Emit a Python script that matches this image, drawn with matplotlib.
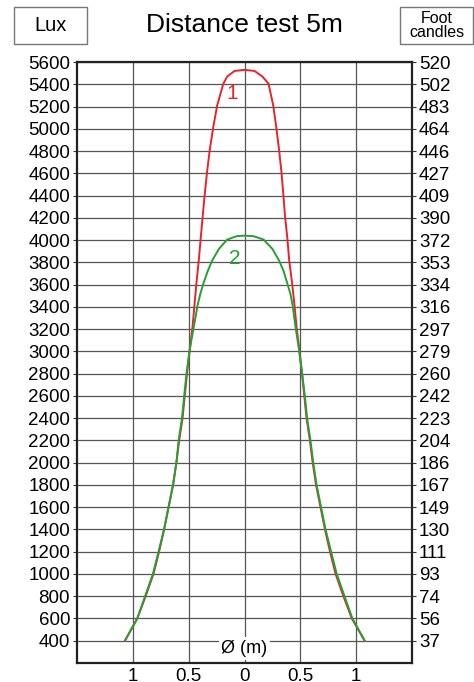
#!/usr/bin/env python3
import matplotlib

matplotlib.use("agg")
import matplotlib.pyplot as plt
from matplotlib.patches import Rectangle

plt.rcParams["font.family"] = ["Liberation Sans", "DejaVu Sans"]

# beam profile: diameter position (m) vs illuminance (lux)
red_x = [-1.07, -0.96, -0.885, -0.815, -0.765, -0.72, -0.68, -0.64, -0.61, -0.585,
         -0.555, -0.535, -0.515, -0.49, -0.466, -0.448, -0.43, -0.41, -0.392, -0.374,
         -0.356, -0.335, -0.31, -0.28, -0.245, -0.19, -0.155, -0.09, 0.0,
         0.09, 0.16, 0.215, 0.257, 0.284, 0.308, 0.33, 0.347, 0.362, 0.383,
         0.40, 0.425, 0.447, 0.466, 0.49, 0.515, 0.535, 0.555, 0.585, 0.61,
         0.64, 0.68, 0.72, 0.765, 0.815, 0.885, 0.96, 1.075]
red_lux = [400, 600, 800, 1000, 1200, 1400, 1600, 1800, 2000, 2200,
           2400, 2600, 2800, 3020, 3215, 3416, 3620, 3815, 4020, 4220,
           4415, 4616, 4820, 5015, 5210, 5405, 5470, 5520, 5530,
           5520, 5470, 5405, 5210, 5015, 4820, 4616, 4415, 4220, 4020,
           3815, 3620, 3416, 3215, 3020, 2800, 2600, 2400, 2200, 2000,
           1800, 1600, 1400, 1200, 1000, 800, 600, 400]

green_x = [-1.07, -0.96, -0.89, -0.82, -0.77, -0.72, -0.68, -0.64, -0.61, -0.59,
           -0.56, -0.54, -0.52, -0.49, -0.455, -0.42, -0.395, -0.365, -0.33, -0.29,
           -0.23, -0.155, -0.07, 0.0,
           0.08, 0.17, 0.25, 0.31, 0.35, 0.38, 0.41, 0.43, 0.457, 0.487,
           0.515, 0.54, 0.56, 0.59, 0.615, 0.645, 0.685, 0.725, 0.775, 0.825,
           0.895, 0.965, 1.075]
green_lux = [400, 600, 800, 1000, 1200, 1400, 1600, 1800, 2000, 2200,
             2400, 2600, 2800, 3020, 3215, 3416, 3520, 3620, 3720, 3815,
             3920, 4005, 4035, 4040,
             4035, 4005, 3920, 3815, 3720, 3620, 3520, 3416, 3215, 3020,
             2800, 2600, 2400, 2200, 2000, 1800, 1600, 1400, 1200, 1000,
             800, 600, 400]

lux_ticks = list(range(400, 5601, 200))
fc_labels = ["37", "56", "74", "93", "111", "130", "149", "167", "186", "204", "223",
             "242", "260", "279", "297", "316", "334", "353", "372", "390", "409",
             "427", "446", "464", "483", "502", "520"]
x_ticks = [-1.0, -0.5, 0.0, 0.5, 1.0]
x_labels = ["1", "0.5", "0", "0.5", "1"]

fig = plt.figure(figsize=(4.74, 6.82), dpi=100)
ax = fig.add_axes([0.1624, 0.028, 0.707, 0.881])

ax.set_xlim(-1.5, 1.5)
ax.set_ylim(200, 5600)
ax.set_yticks(lux_ticks)
ax.set_xticks(x_ticks)
ax.set_xticklabels(x_labels)
ax.grid(True, color="#555555", linewidth=0.9)
ax.set_axisbelow(True)
ax.tick_params(labelsize=13.5, length=3, color="#333333", pad=2)
ax.tick_params(axis="x", length=0, pad=4)
for sp in ax.spines.values():
    sp.set_linewidth(1.6)
    sp.set_color("#222222")

ax.plot(red_x, red_lux, color="#e8232c", linewidth=1.4, zorder=3)
ax.plot(green_x, green_lux, color="#23a133", linewidth=1.4, zorder=4)

ax.text(-0.11, 5315, "1", color="#e8232c", fontsize=15, ha="center", va="center")
ax.text(-0.085, 3835, "2", color="#23a133", fontsize=15, ha="center", va="center")
ax.text(0, 330, "Ø (m)", fontsize=13, ha="center", va="center", zorder=5,
        bbox=dict(facecolor="white", edgecolor="none", pad=2))

ax2 = ax.twinx()
ax2.set_ylim(ax.get_ylim())
ax2.set_yticks(lux_ticks)
ax2.set_yticklabels(fc_labels)
ax2.tick_params(labelsize=13.5, length=3, color="#333333", pad=2)
for sp in ax2.spines.values():
    sp.set_visible(False)

# header: unit boxes on both sides, title in the middle
for x0 in (0.0295, 0.8439):
    fig.patches.append(Rectangle((x0, 0.9355), 0.154, 0.0543, transform=fig.transFigure,
                                 facecolor="white", edgecolor="#777777", linewidth=1.0))
fig.text(0.515, 0.963, "Distance test 5m", fontsize=19, ha="center", va="center")
fig.text(0.1065, 0.9625, "Lux", fontsize=14.5, ha="center", va="center")
fig.text(0.921, 0.9625, "Foot\ncandles", fontsize=11.5, ha="center", va="center",
         linespacing=0.85)

fig.savefig("out.png", dpi=100)
